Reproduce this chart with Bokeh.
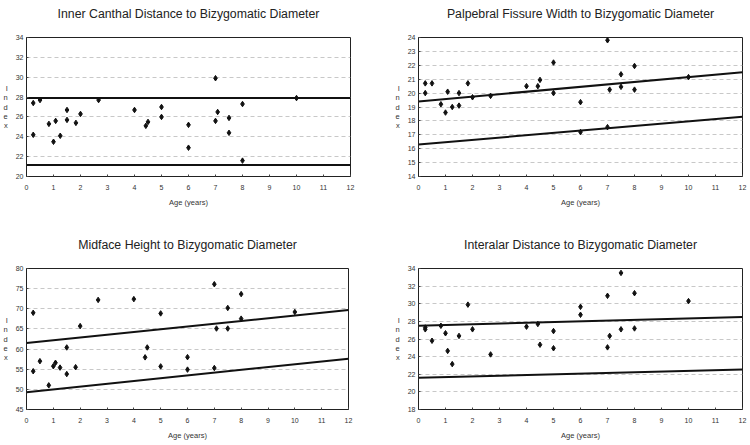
from bokeh.plotting import figure
from bokeh.models import Range1d, FixedTicker, Title
from bokeh.layouts import column, row
from bokeh.embed import file_html
from bokeh.resources import INLINE

FONT = "Liberation Sans"

# ---------------- data ----------------
ages = [0.25, 0.25, 0.5, 0.83, 1.0, 1.08, 1.25, 1.5, 1.5, 1.83, 2.0, 2.67,
        4.0, 4.42, 4.5, 5.0, 5.0, 6.0, 6.0, 7.0, 7.0, 7.08, 7.5, 7.5, 8.0, 8.0, 10.0]

inner_canthal = [27.4, 24.2, 27.7, 25.3, 23.5, 25.6, 24.1, 26.7, 25.7, 25.4, 26.3, 27.7,
                 26.7, 25.1, 25.5, 27.0, 26.0, 25.2, 22.9, 29.9, 25.6, 26.5, 25.9, 24.4,
                 27.3, 21.6, 27.9]

palpebral = [20.7, 20.0, 20.7, 19.2, 18.6, 20.1, 19.0, 20.0, 19.1, 20.7, 19.7, 19.8,
             20.5, 20.5, 20.95, 22.2, 20.0, 19.35, 17.2, 23.8, 17.55, 20.25, 21.35, 20.45,
             21.95, 20.25, 21.15]

midface = [69.0, 54.5, 57.0, 51.0, 55.75, 56.6, 55.4, 60.4, 53.8, 55.5, 65.7, 72.2,
           72.4, 57.95, 60.4, 68.85, 55.7, 58.0, 54.9, 76.1, 55.3, 65.1, 70.2, 65.1,
           73.65, 67.55, 69.2]

ages_interalar = [0.25, 0.25, 0.5, 0.83, 1.0, 1.08, 1.25, 1.5, 1.83, 2.0, 2.67,
                  4.0, 4.42, 4.5, 5.0, 5.0, 6.0, 6.0, 7.0, 7.0, 7.08, 7.5, 7.5, 8.0, 8.0, 10.0]
interalar = [27.3, 27.1, 25.8, 27.5, 26.65, 24.65, 23.15, 26.35, 29.9, 27.1, 24.25,
             27.4, 27.7, 25.35, 26.9, 24.95, 29.65, 28.75, 30.9, 25.05, 26.35, 33.5, 27.1,
             31.2, 27.2, 30.3]

# normal-range lines (value at age 0 and age 12)
line_x = [0, 12]
ic_upper, ic_lower = [27.9, 27.9], [21.15, 21.15]
pf_upper, pf_lower = [19.4, 21.5], [16.3, 18.3]
mf_upper, mf_lower = [61.5, 69.7], [49.3, 57.6]
ia_upper, ia_lower = [27.5, 28.5], [21.6, 22.55]

x_ticks = list(range(0, 13))
y_label = "I\nn\nd\ne\nx"


def make_panel(title, xs, ys, upper, lower, ymin, ymax, ystep,
               width, height, bl, br, bt, bb):
    p = figure(width=width, height=height, output_backend="svg", toolbar_location=None,
               x_range=Range1d(0, 12), y_range=Range1d(ymin, ymax),
               min_border_left=bl, min_border_right=br, min_border_top=bt,
               min_border_bottom=bb, background_fill_color="white",
               border_fill_color="white")
    # trailing blank line lifts the visible title away from the frame
    p.title = Title(text=title + "\n", align="center", text_font=FONT,
                    text_font_size="12.3px", text_font_style="normal",
                    text_color="#222222", standoff=6)
    p.outline_line_color = "#222222"
    p.outline_line_width = 1

    p.xaxis.ticker = FixedTicker(ticks=x_ticks)
    p.yaxis.ticker = FixedTicker(ticks=list(range(ymin, ymax + 1, ystep)))
    for ax in (p.xaxis, p.yaxis):
        ax.axis_line_color = "#222222"
        ax.major_tick_line_color = "#444444"
        ax.major_tick_out = 0
        ax.major_tick_in = 2
        ax.minor_tick_line_color = None
        ax.major_label_text_font = FONT
        ax.major_label_text_font_size = "7px"
        ax.major_label_text_color = "#333333"
        ax.axis_label_text_font = FONT
        ax.axis_label_text_font_style = "normal"
        ax.axis_label_text_font_size = "7.5px"
        ax.axis_label_text_color = "#333333"
    p.xaxis.major_label_standoff = 8
    p.yaxis.major_label_standoff = 3
    p.xaxis.axis_label = "Age (years)"
    p.xaxis.axis_label_standoff = 5

    yax = p.yaxis[0]
    p.yaxis.axis_label = y_label
    p.yaxis.axis_label_standoff = 5
    p.yaxis.axis_label_text_line_height = 1.05
    if "axis_label_orientation" in yax.properties():
        yax.axis_label_orientation = "horizontal"

    p.xgrid.grid_line_color = None
    p.ygrid.grid_line_color = "#c8c8c8"
    p.ygrid.grid_line_dash = "4 3"
    p.ygrid.grid_line_width = 1

    p.line(line_x, upper, line_color="#111111", line_width=2)
    p.line(line_x, lower, line_color="#111111", line_width=2)
    p.scatter(xs, ys, marker="diamond", size=5.5, color="#111111")
    return p


p1 = make_panel("Inner Canthal Distance to Bizygomatic Diameter", ages, inner_canthal,
                ic_upper, ic_lower, 20, 34, 2, 375, 222, 25, 25, 37, 44)
p2 = make_panel("Palpebral Fissure Width to Bizygomatic Diameter", ages, palpebral,
                pf_upper, pf_lower, 14, 24, 1, 375, 222, 43, 8, 35, 46)
p3 = make_panel("Midface Height to Bizygomatic Diameter", ages, midface,
                mf_upper, mf_lower, 45, 80, 5, 375, 223, 25, 27, 45, 35)
p4 = make_panel("Interalar Distance to Bizygomatic Diameter", ages_interalar, interalar,
                ia_upper, ia_lower, 18, 34, 2, 375, 223, 43, 8, 46, 36)

layout = column(row(p1, p2), row(p3, p4))
open("out.html", "w").write(file_html(layout, INLINE))
